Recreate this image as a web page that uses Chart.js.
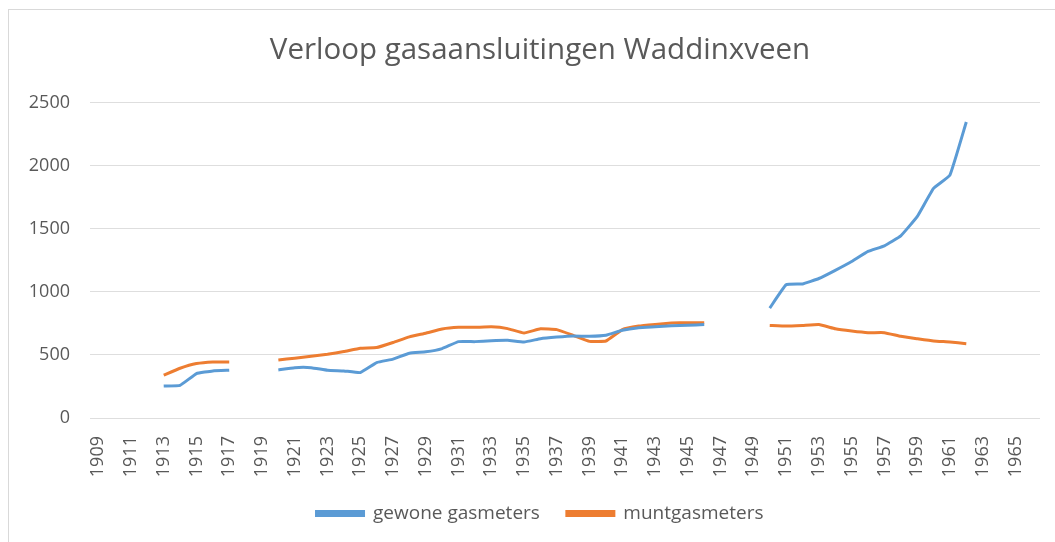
<!DOCTYPE html>
<html>
<head>
<meta charset="utf-8">
<script src="https://cdn.jsdelivr.net/npm/chart.js@4.4.1/dist/chart.umd.min.js"></script>
<style>
html,body{margin:0;padding:0;background:#fff;}
#wrap{position:absolute;left:8px;top:9px;width:1050px;height:536px;border:1px solid #d9d9d9;box-sizing:border-box;}
canvas{position:absolute;left:0;top:0;}
</style>
</head>
<body>
<div id="wrap"></div>
<canvas id="grafico" width="1055" height="542"></canvas>
<script>

// jaren 1909 t/m 1966
const jaren = [];
for (let j = 1909; j <= 1966; j++) jaren.push(String(j));

// gewone gasmeters (null = geen gegevens)
const gewone = [
null,null,null,null,
254,259,352,373,378,
null,null,
381,399,399,378,373,360,439,466,513,524,550,605,605,612,615,602,628,641,650,
647,655,695,715,722,730,734,740,
null,null,null,
870,1055,1062,1105,1170,1240,1320,1364,1443,1595,1819,1924,2345,
null,null,null,null
];

// muntgasmeters
const munt = [
null,null,null,null,
340,394,431,444,444,
null,null,
460,474,489,505,526,553,558,598,643,672,705,718,718,722,708,673,707,700,655,
607,610,700,728,741,752,755,755,
null,null,null,
733,728,733,740,707,689,676,676,647,628,610,602,589,
null,null,null,null
];

const tekstKleur = "#595959";

const ctx = document.getElementById("grafico").getContext("2d");

new Chart(ctx, {
type: "line",
data: {
labels: jaren,
datasets: [
{
label: "gewone gasmeters",
data: gewone,
borderColor: "#5b9bd5",
backgroundColor: "#5b9bd5",
borderWidth: 3,
pointRadius: 0,
tension: 0.1,
spanGaps: false
},
{
label: "muntgasmeters",
data: munt,
borderColor: "#ed7d31",
backgroundColor: "#ed7d31",
borderWidth: 3,
pointRadius: 0,
tension: 0.1,
spanGaps: false
}
]
},
options: {
responsive: false,
animation: false,
layout: { padding: { left: 40, right: 15, top: 33, bottom: 9 } },
plugins: {
title: {
display: true,
text: "Verloop gasaansluitingen Waddinxveen",
color: tekstKleur,
font: { family: "Open Sans", size: 29.5, weight: "normal" },
padding: { top: 0, bottom: 34 }
},
legend: {
position: "bottom",
labels: {
color: tekstKleur,
font: { family: "Open Sans", size: 19 },
boxWidth: 47,
boxHeight: 4,
padding: 27
}
},
tooltip: { enabled: false }
},
scales: {
x: {
offset: true,
grid: { display: false },
border: { display: false },
afterFit: function(s) {
s.height = 59;
s.paddingLeft = 0;
s.paddingRight = 0;
},
ticks: {
color: tekstKleur,
font: { family: "Open Sans", size: 18 },
autoSkip: false,
minRotation: 90,
maxRotation: 90,
padding: 10,
callback: function(v, i) { return i % 2 === 0 ? jaren[i] : ""; }
}
},
y: {
min: 0,
max: 2500,
afterFit: function(s) {
s.width = 50;
// labels mogen links buiten de as-box vallen
s._computeLabelArea = function() { return undefined; };
},
grid: { color: "#dedede", drawTicks: false },
border: { display: false },
ticks: {
color: tekstKleur,
font: { family: "Open Sans", size: 18 },
stepSize: 500,
padding: 20,
callback: function(v) { return String(v); }
}
}
}
}
});

</script>
</body>
</html>
